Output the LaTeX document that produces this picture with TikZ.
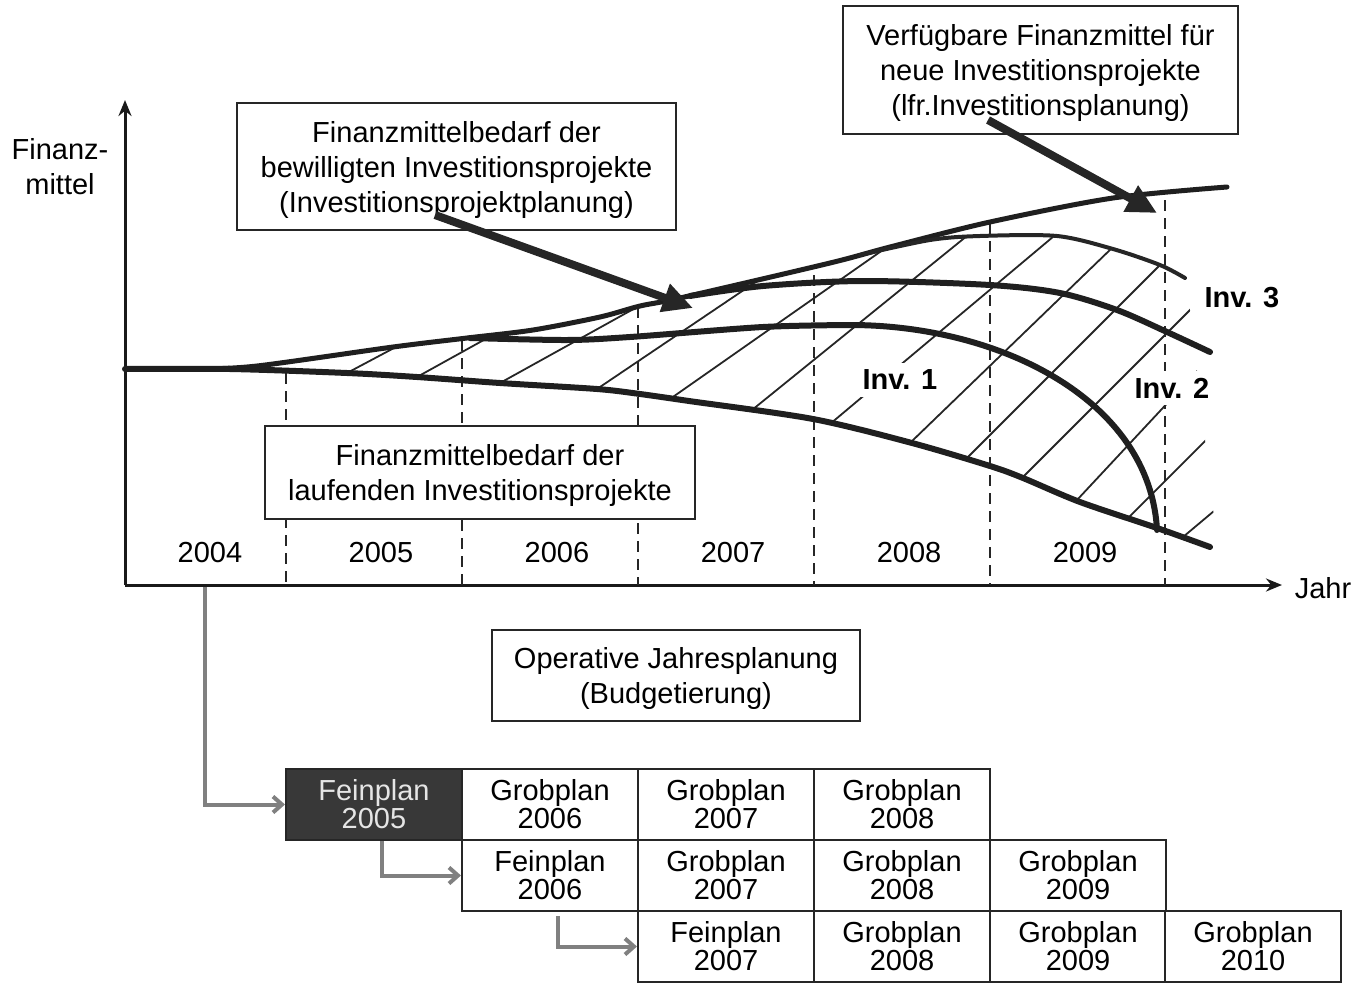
\documentclass[tikz,border=0pt]{standalone}
\usepackage{fontspec}
\setmainfont{Liberation Sans}
\usetikzlibrary{arrows.meta}
\begin{document}
\begin{tikzpicture}[x=1pt,y=-1pt,
  every node/.style={font=\fontsize{29}{35}\selectfont},
  box/.style={draw=black!85, line width=2pt, fill=white, align=center, inner sep=0pt, text depth=0pt},
  cell/.style={draw=black!85, line width=2pt, fill=white, align=center, inner sep=0pt,
    minimum width=176pt, minimum height=71pt, font=\fontsize{29}{28}\selectfont},
  darkcell/.style={cell, fill=black!78, text=black!10},
  curve/.style={line width=6pt, line cap=round, draw=black!88},
  thincurve/.style={line width=4pt, line cap=round, draw=black!85},
  hatch/.style={line width=1.8pt, draw=black!85},
  yearline/.style={line width=2.4pt, dash pattern=on 11pt off 7pt, draw=black!85},
  axis/.style={line width=3pt, draw=black!90, -{Stealth[length=16pt,width=13pt]}},
  pointer/.style={line width=8pt, draw=black!85, -{Triangle[length=30pt,width=28pt]}},
  link/.style={line width=4pt, draw=black!50, -{Straight Barb[length=9pt,width=16pt]}},
  inv/.style={font=\fontsize{29}{29}\selectfont\bfseries, inner xsep=4pt, inner ysep=7pt},
]
\useasboundingbox (0,0) rectangle (1357,983);

% axes
\coordinate (O) at (125,585);
\coordinate (ytop) at (125,100);
\coordinate (xend) at (1282,585);
\draw[axis] (O) -- (ytop);
\draw[axis] (O) -- (xend);
\node[align=center] (fm) at (60,167) {Finanz-\\mittel};
\node (jahr) at (1323,588) {Jahr};

% hatched area between running demand and the upper envelope
\begin{scope}
\clip plot[smooth] coordinates {(230,369) (257,369) (347,373) (417,377) (500,383) (597,389) (640,394) (689,401) (813,419) (912,443) (990,466) (1023,478) (1080,502) (1157,528) (1212,548)}
  -- (1218,552) -- (1186,276)
  -- plot[smooth] coordinates {(1185,278) (1160,265) (1113,249) (1057,236) (980,236) (930,240) (880,250)}
  -- plot[smooth] coordinates {(880,250) (830,263) (680,298) (640,306) (600,317) (533,330) (467,338) (393,347) (257,366) (230,369)}
  -- cycle;
\foreach \x/\y/\a in {347/373/28, 417/377/29, 500/383/29, 597/389/34, 670/399/35,
    752/410/39, 830/424/40, 910/443/44, 965/460/45, 1023/477/45, 1077/500/47,
    1128/518/45, 1183/537/40}
  \draw[hatch] (\x,\y) ++(180-\a:40) -- ++(-\a:700);
\end{scope}

% year separators
\foreach \x/\t in {286/373, 462/340, 638/307, 814/275, 990/223, 1165/200}
  \draw[yearline] (\x,\t) -- (\x,585);

% curves
\draw[curve] plot[smooth] coordinates {(125,369) (230,369) (347,373) (417,377) (500,383) (597,389) (640,394) (689,401) (813,419) (912,443) (990,466) (1023,478) (1080,502) (1157,528) (1210,547)};
\draw[curve, line width=5pt] plot[smooth] coordinates {(200,369) (257,366) (393,347) (467,338) (533,330) (600,317) (640,306) (680,298) (830,263) (890,247) (990,222) (1113,198) (1227,187)};
\draw[thincurve] plot[smooth] coordinates {(860,255) (930,240) (980,236) (1057,236) (1113,249) (1160,265) (1185,278)};
\draw[curve] plot[smooth] coordinates {(690,296) (763,286) (863,281) (990,285) (1060,293) (1117,310) (1167,332) (1210,352)};
\draw[curve] plot[smooth] coordinates {(470,338) (567,340) (630,337) (763,327) (850,325)}
  .. controls (1000,325) and (1150,400) .. (1157,530);

% curve labels
\node[inv, fill=white] (inv1) at (900,380) {Inv. 1};
\node[inv, fill=white] (inv2) at (1172,388) {Inv. 2};
\node[inv] (inv3) at (1242,298) {Inv. 3};

% years
\foreach \x/\yr in {210/2004, 381/2005, 557/2006, 733/2007, 909/2008, 1085/2009}
  \node (y\yr) at (\x,553) {\yr};

% text boxes
\node[box, minimum width=439pt, minimum height=127pt] (bew) at (456.5,166.5)
  {Finanzmittelbedarf der\\bewilligten Investitionsprojekte\\(Investitionsprojektplanung)};
\node[box, minimum width=395pt, minimum height=128pt] (verf) at (1040.5,70)
  {Verfügbare Finanzmittel für\\neue Investitionsprojekte\\(lfr.Investitionsplanung)};
\node[box, minimum width=430pt, minimum height=93pt] (lauf) at (480,472.5)
  {Finanzmittelbedarf der\\laufenden Investitionsprojekte};
\node[box, minimum width=368pt, minimum height=91pt] (ojp) at (676,675.5)
  {Operative Jahresplanung\\(Budgetierung)};

% pointers from the boxes to the curves
\coordinate (p1s) at (435,215);
\coordinate (p1e) at (693,308);
\coordinate (p2s) at (988,120);
\coordinate (p2e) at (1157,213);
\draw[pointer] (p1s) -- (p1e);
\draw[pointer] (p2s) -- (p2e);

% rolling plan table
\node[darkcell] (f05) at (374,804.5) {Feinplan\\2005};
\node[cell] (g06a) at (550,804.5) {Grobplan\\2006};
\node[cell] (g07a) at (726,804.5) {Grobplan\\2007};
\node[cell] (g08a) at (902,804.5) {Grobplan\\2008};
\node[cell] (f06) at (550,875.5) {Feinplan\\2006};
\node[cell] (g07b) at (726,875.5) {Grobplan\\2007};
\node[cell] (g08b) at (902,875.5) {Grobplan\\2008};
\node[cell] (g09b) at (1078,875.5) {Grobplan\\2009};
\node[cell] (f07) at (726,946.5) {Feinplan\\2007};
\node[cell] (g08c) at (902,946.5) {Grobplan\\2008};
\node[cell] (g09c) at (1078,946.5) {Grobplan\\2009};
\node[cell] (g10c) at (1253,946.5) {Grobplan\\2010};

% links into the table
\coordinate (t2004) at (205,587);
\draw[link] (t2004) |- (f05.west);
\draw[link] ([xshift=8pt]f05.south) |- (f06.west);
\draw[link] ([shift={(8pt,-4pt)}]f06.south) |- (f07.west);
\end{tikzpicture}
\end{document}
